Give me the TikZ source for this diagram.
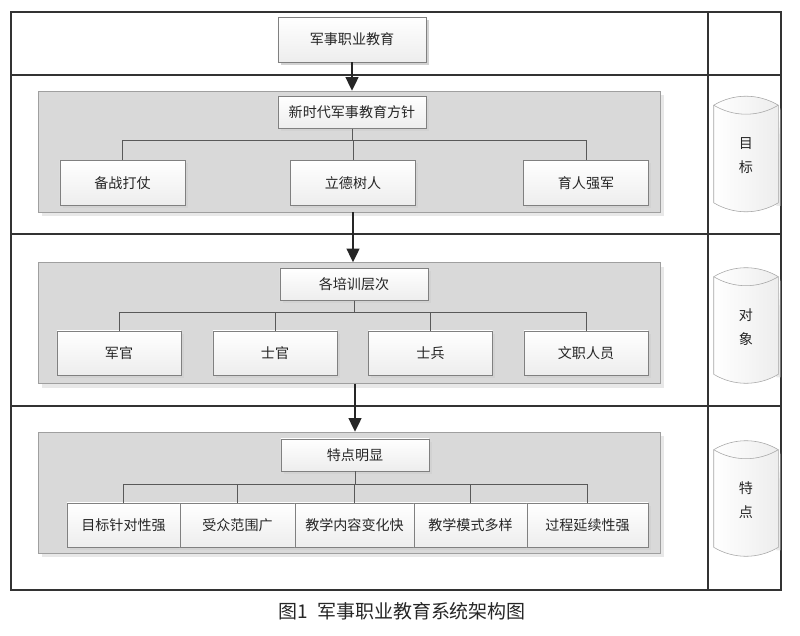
\documentclass[tikz,border=0pt]{standalone}
\usepackage{fontspec}
\setmainfont{Noto Sans CJK SC}
\usepackage{tikz}
\usetikzlibrary{arrows.meta, shadows, calc}

\begin{document}
\begin{tikzpicture}[
    x=0.025cm, y=-0.025cm,
    itembox/.style={draw=black!50, top color=white, bottom color=gray!14, minimum height=1.125cm, inner sep=1pt, font=\fontsize{10}{12}\selectfont, text=black!85, drop shadow={shadow xshift=2pt, shadow yshift=-2pt, fill=gray!35, opacity=1}},
    panel/.style={draw=gray!75, fill=gray!30, minimum width=15.55cm, minimum height=3.025cm, drop shadow={shadow xshift=3pt, shadow yshift=-3pt, fill=gray!18, opacity=1}},
    frame/.style={draw=black!80, line width=1.4pt},
    link/.style={draw=black!65, line width=0.5pt},
    arrw/.style={-{Triangle[width=0.32cm, length=0.34cm]}, line width=1.4pt, black!85},
    cyl/.style={draw=gray!70, left color=white, right color=gray!14}
]
\useasboundingbox (0,0) rectangle (800,636);
% Frame
\draw[frame] (11,12) rectangle (781,590);
\foreach \yy in {75,234,406} {
    \draw[frame] (11,\yy) -- (781,\yy);
}
\draw[frame] (708,12) -- (708,590);
% Top
\node[itembox, minimum width=3.7cm] (top) at (352,39.5) {军事职业教育};
% Panels
\foreach \i/\cy in {1/151.5, 2/323, 3/492.5} {
    \node[panel] (p\i) at (349,\cy) {};
}
% Headers
\foreach \i/\cx/\cy/\txt in {1/352/112.5/新时代军事教育方针, 2/354/284.5/各培训层次, 3/355/455/特点明显} {
    \node[itembox, minimum width=3.7cm, minimum height=0.8cm] (h\i) at (\cx,\cy) {\txt};
}
\coordinate (b1) at (352,140);
\coordinate (b2) at (354,312);
\coordinate (b3) at (355,484);
% Goals
\foreach \j/\cx/\txt in {1/122.5/备战打仗, 2/353/立德树人, 3/586/育人强军} {
    \node[itembox, minimum width=3.125cm] (a\j) at (\cx,183) {\txt};
    \draw[link] (h1.south) -- (b1) -| (a\j.north);
}
% Trainees
\foreach \j/\cx/\txt in {1/119/军官, 2/275/士官, 3/430.5/士兵, 4/586/文职人员} {
    \node[itembox, minimum width=3.1cm, minimum height=1.1cm] (o\j) at (\cx,353) {\txt};
    \draw[link] (h2.south) -- (b2) -| (o\j.north);
}
% Features
\foreach \j/\cx/\w/\txt in {1/123.5/2.825/目标针对性强, 2/237.5/2.875/受众范围广, 3/354.5/2.975/教学内容变化快, 4/470.5/2.825/教学模式多样, 5/587.5/3.025/过程延续性强} {
    \node[itembox, minimum width=\w cm, minimum height=1.1cm] (t\j) at (\cx,525) {\txt};
    \draw[link] (h3.south) -- (b3) -| (t\j.north);
}
% Arrows
\draw[arrw] (top.south) -- (top.south |- p1.north);
\draw[arrw] (a2.south |- p1.south) -- (a2.south |- p2.north);
\draw[arrw] (h3.north |- p2.south) -- (h3.north |- p3.north);
% Side labels
\foreach \i/\cy/\txt in {1/154/{目\\标}, 2/325.5/{对\\象}, 3/498.5/{特\\点}} {
    \node[minimum width=1.6cm, minimum height=2.875cm, inner sep=0pt] (c\i) at (746,\cy) {};
    \fill[gray!18] ($(c\i.north east)+(2,12)$) -- ($(c\i.south east)+(2,-6)$) -- ($(c\i.south east)+(-2,-6)$) -- cycle;
    \draw[cyl] ($(c\i.north west)+(0,9)$) .. controls ($(c\i.north west)+(20,-3)$) and ($(c\i.north east)+(-20,-3)$) .. ($(c\i.north east)+(0,9)$)
        -- ($(c\i.south east)+(0,-9)$) .. controls ($(c\i.south east)+(-20,3)$) and ($(c\i.south west)+(20,3)$) .. ($(c\i.south west)+(0,-9)$) -- cycle;
    \draw[draw=gray!70] ($(c\i.north west)+(0,9)$) .. controls ($(c\i.north west)+(20,21)$) and ($(c\i.north east)+(-20,21)$) .. ($(c\i.north east)+(0,9)$);
    \node[font=\fontsize{10}{17}\selectfont, align=center, text=black!85] (l\i) at ($(c\i)+(0,2)$) {\txt};
}
% Caption
\node[font=\fontsize{13.5}{15}\selectfont, text=black!85] (cap) at (402,611) {图1\hspace{0.5em}军事职业教育系统架构图};
\end{tikzpicture}
\end{document}
